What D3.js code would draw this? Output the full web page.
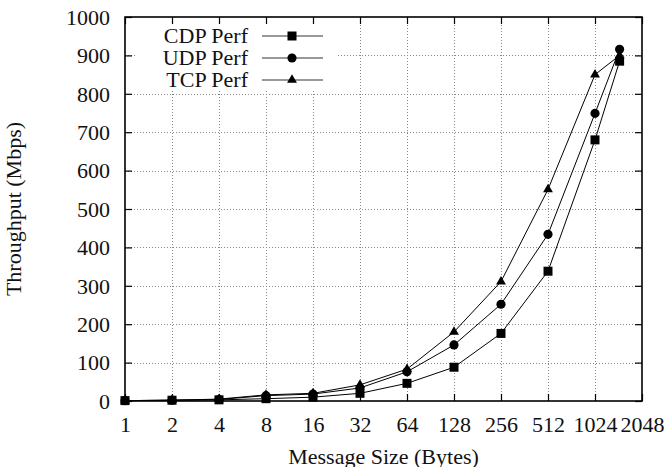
<!DOCTYPE html>
<html>
<head>
<meta charset="utf-8">
<script src="https://cdn.jsdelivr.net/npm/d3@7"></script>
<style>
  body { margin: 0; background: #fff; }
  svg, svg text { font-family: "Liberation Serif", "Times New Roman", "DejaVu Serif", serif; }
</style>
</head>
<body>
<svg id="chart"></svg>
<script>
const sizes = [1, 2, 4, 8, 16, 32, 64, 128, 256, 512, 1024, 1472];
const cdpPerf = [1, 2, 3, 6, 10, 20, 46, 88, 176, 338, 680, 885];
const udpPerf = [1, 2, 4, 14, 18, 34, 76, 146, 252, 434, 749, 916];
const tcpPerf = [1, 2, 5, 16, 20, 42, 83, 180, 311, 551, 850, 900];
const xTicks = [1, 2, 4, 8, 16, 32, 64, 128, 256, 512, 1024, 2048];
const yTicks = [0, 100, 200, 300, 400, 500, 600, 700, 800, 900, 1000];
const seriesNames = ["CDP Perf", "UDP Perf", "TCP Perf"];

const width = 668, height = 467;
const margin = { top: 17, right: 26, bottom: 66, left: 125 };
const serif = "'Liberation Serif', 'Times New Roman', serif";
const fontSize = "22px";

const svg = d3.select("#chart").attr("width", width).attr("height", height);

const x = d3.scaleLog().base(2)
    .domain([1, 2048])
    .range([margin.left, width - margin.right]);
const y = d3.scaleLinear()
    .domain([0, 1000])
    .range([height - margin.bottom, margin.top]);

const series = [
    { name: seriesNames[0], values: cdpPerf, symbol: d3.symbolSquare, size: 81 },
    { name: seriesNames[1], values: udpPerf, symbol: d3.symbolCircle, size: 66 },
    { name: seriesNames[2], values: tcpPerf, symbol: d3.symbolTriangle, size: 42 }
];

// grid
const grid = svg.append("g").attr("class", "grid")
    .attr("stroke", "#888").attr("stroke-width", 1).attr("stroke-dasharray", "1,2");
grid.selectAll("line.gx").data(xTicks.slice(1, -1)).join("line")
    .attr("x1", d => Math.round(x(d)) + 0.5).attr("x2", d => Math.round(x(d)) + 0.5)
    .attr("y1", y(0)).attr("y2", y(1000));
grid.selectAll("line.gy").data(yTicks.slice(1, -1)).join("line")
    .attr("y1", d => Math.round(y(d)) + 0.5).attr("y2", d => Math.round(y(d)) + 0.5)
    .attr("x1", x(1)).attr("x2", x(2048));

// legend background (covers grid like gnuplot)
svg.append("rect")
    .attr("x", 135).attr("y", 22).attr("width", 202).attr("height", 68)
    .attr("fill", "#fff");

// axes with inward ticks on all sides
const tickLen = 7;
const xAxisB = d3.axisBottom(x).tickValues(xTicks).tickFormat(d3.format("d"))
    .tickSizeInner(-tickLen).tickSizeOuter(0);
const xAxisT = d3.axisTop(x).tickValues(xTicks).tickFormat("")
    .tickSizeInner(-tickLen).tickSizeOuter(0);
const yAxisL = d3.axisLeft(y).tickValues(yTicks).tickFormat(d3.format("d"))
    .tickSizeInner(-tickLen).tickSizeOuter(0);
const yAxisR = d3.axisRight(y).tickValues(yTicks).tickFormat("")
    .tickSizeInner(-tickLen).tickSizeOuter(0);

function styleAxis(g) {
    g.attr("font-family", serif).attr("font-size", fontSize);
    g.select(".domain").remove();
    g.selectAll(".tick line").attr("stroke", "#000").attr("stroke-width", 1.2);
    g.selectAll(".tick text").attr("fill", "#111");
}

svg.append("g").attr("transform", `translate(0,${y(0)})`).call(xAxisB).call(styleAxis)
    .selectAll(".tick text").attr("y", 31).attr("dy", 0);
svg.append("g").attr("transform", `translate(0,${y(1000)})`).call(xAxisT).call(styleAxis);
svg.append("g").attr("transform", `translate(${x(1)},0)`).call(yAxisL).call(styleAxis)
    .selectAll(".tick text").attr("x", -15).attr("dy", "0.33em");
svg.append("g").attr("transform", `translate(${x(2048)},0)`).call(yAxisR).call(styleAxis);

// frame
svg.append("rect")
    .attr("x", x(1)).attr("y", y(1000))
    .attr("width", x(2048) - x(1)).attr("height", y(0) - y(1000))
    .attr("fill", "none").attr("stroke", "#000").attr("stroke-width", 1.6);

// lines and markers
const line = d3.line()
    .x((d, i) => x(sizes[i]))
    .y(d => y(d));

series.forEach(s => {
    svg.append("path")
        .datum(s.values)
        .attr("d", line)
        .attr("fill", "none")
        .attr("stroke", "#000")
        .attr("stroke-width", 1);
});
series.forEach(s => {
    svg.append("g").selectAll("path")
        .data(s.values)
        .join("path")
        .attr("transform", (d, i) => `translate(${x(sizes[i])},${y(d)})`)
        .attr("d", d3.symbol().type(s.symbol).size(s.size))
        .attr("fill", "#000");
});

// legend
const legend = svg.append("g").attr("class", "legend")
    .attr("font-family", serif).attr("font-size", fontSize);
series.forEach((s, i) => {
    const ly = 36 + i * 22;
    legend.append("text")
        .attr("x", 248).attr("y", ly)
        .attr("dy", "0.33em")
        .attr("text-anchor", "end")
        .attr("fill", "#111")
        .text(s.name);
    legend.append("line")
        .attr("x1", 262).attr("x2", 323)
        .attr("y1", ly).attr("y2", ly)
        .attr("stroke", "#333").attr("stroke-width", 1);
    legend.append("path")
        .attr("transform", `translate(292,${ly})`)
        .attr("d", d3.symbol().type(s.symbol).size(s.size))
        .attr("fill", "#000");
});

// axis titles
svg.append("text")
    .attr("x", (x(1) + x(2048)) / 2).attr("y", 464)
    .attr("text-anchor", "middle")
    .attr("font-family", serif).attr("font-size", fontSize).attr("fill", "#111")
    .text("Message Size (Bytes)");
svg.append("text")
    .attr("transform", `translate(21,${(y(0) + y(1000)) / 2}) rotate(-90)`)
    .attr("text-anchor", "middle")
    .attr("font-family", serif).attr("font-size", fontSize).attr("fill", "#111")
    .text("Throughput (Mbps)");
</script>
</body>
</html>
